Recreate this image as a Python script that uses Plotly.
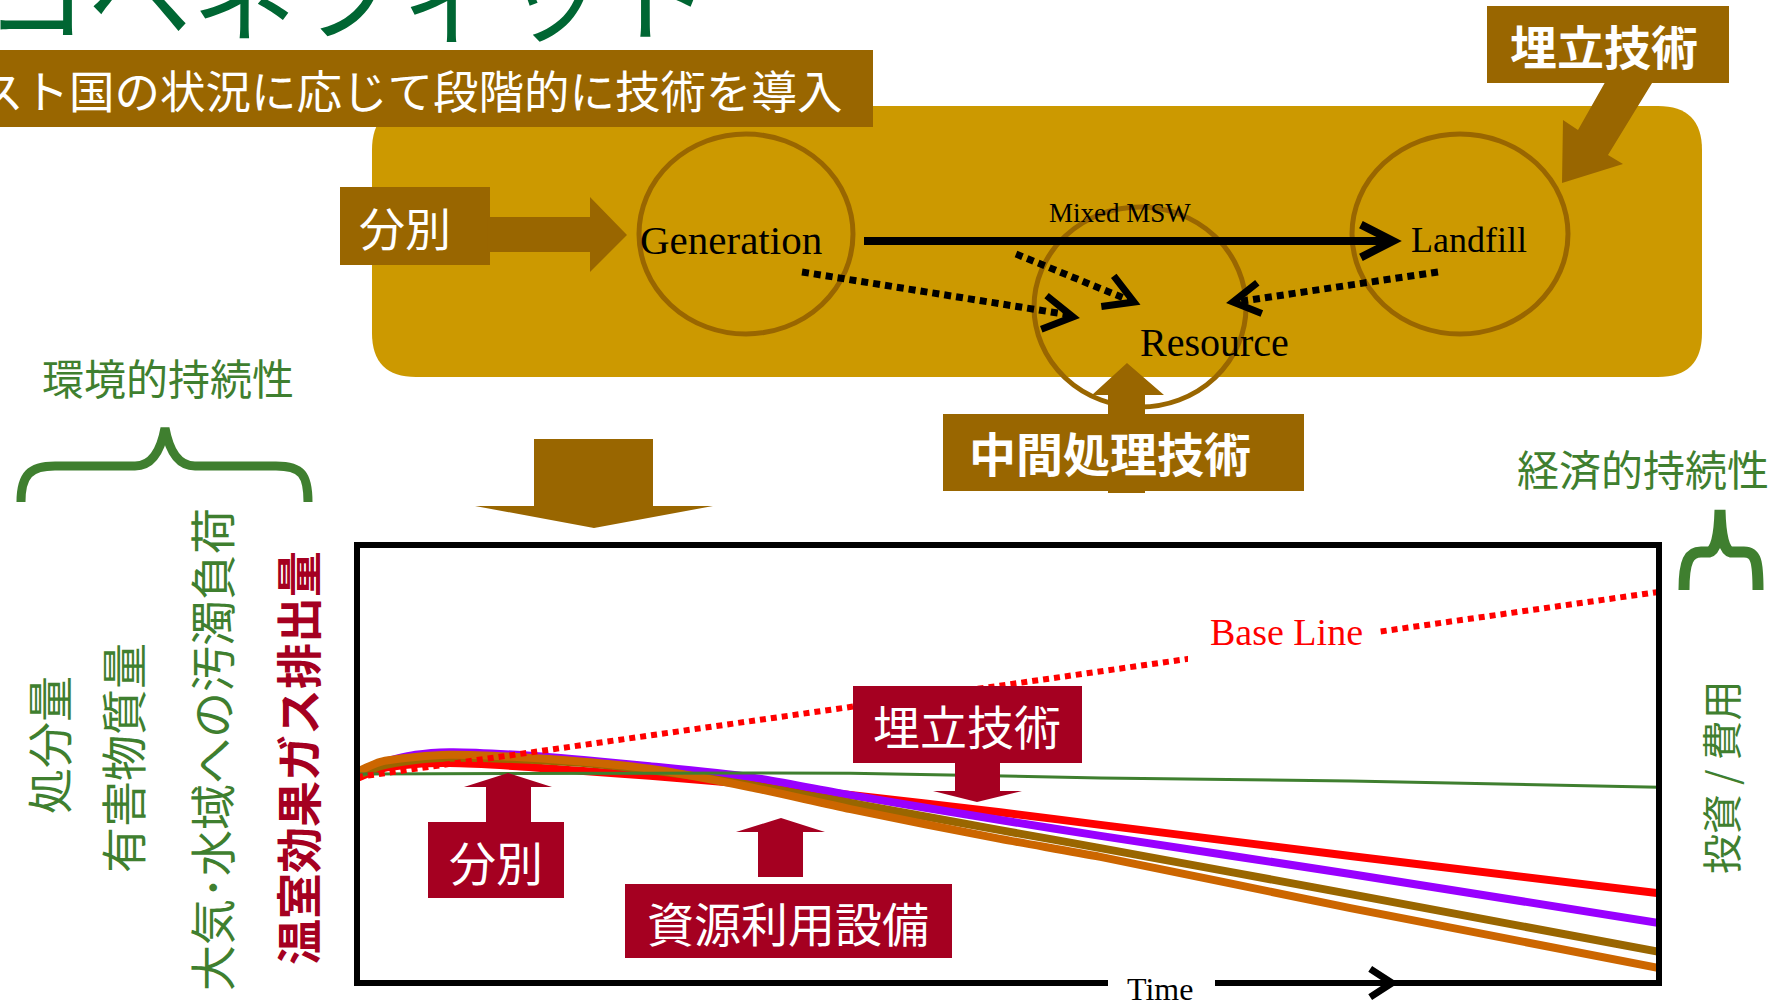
import math
import plotly.graph_objects as go

W, H = 1788, 1006

# ---- chart series (time as % of the horizon, indicator in relative units) ----
time_points = [0, 1.8, 4.5, 7.1, 12.3, 17.4, 22.5, 30.2, 37.9, 49.4, 57.1, 76.3, 100]
path_red = [46.8, 48.9, 50.0, 50.2, 49.5, 48.4, 47.3, 45.4, 42.9, 39.0, 36.1, 29.0, 20.5]
path_purple = [47.3, 50.2, 52.1, 52.7, 52.1, 50.9, 49.5, 47.0, 42.9, 37.2, 33.6, 24.9, 13.7]
path_brown = [47.3, 49.5, 50.9, 51.4, 51.1, 50.2, 48.6, 45.2, 41.1, 34.9, 30.8, 20.3, 7.1]
path_orange = [48.2, 50.5, 51.6, 52.1, 51.6, 50.5, 48.9, 44.7, 39.7, 32.9, 28.8, 17.1, 3.4]

cost_time = [0, 22.5, 37.9, 57.1, 76.3, 100]
cost_value = [47.7, 47.9, 47.9, 46.8, 46.1, 44.7]

baseline_time = [0, 100]
baseline_value = [47.0, 89.3]

# ---- palette ----
GOLD = "#CC9900"
BROWN = "#996600"
CRIMSON = "#A50021"
GREEN = "#3F7F2F"
TITLE_GREEN = "#006633"
CJK = "Noto Sans CJK JP"
SERIF = "Liberation Serif"


def X(px):
    return px / W


def Y(py):
    return 1 - py / H


shapes = []
annotations = []

# number of points each SVG command consumes
_ARITY = {"M": 1, "L": 1, "Q": 2, "C": 3}


def path_str(parts):
    out = []
    for cmd, pts in parts:
        k = _ARITY[cmd]
        for i in range(0, len(pts), k):
            group = pts[i:i + k]
            c = cmd if not (cmd == "M" and i > 0) else "L"
            out.append(c + " " + " ".join(f"{X(x):.5f},{Y(y):.5f}" for x, y in group))
    return " ".join(out)


def rect(x0, y0, x1, y1, color):
    shapes.append(dict(type="rect", xref="paper", yref="paper",
                       x0=X(x0), x1=X(x1), y0=Y(y1), y1=Y(y0),
                       fillcolor=color, line=dict(width=0), layer="above"))


def poly(pts, color):
    d = path_str([("M", pts[:1]), ("L", pts[1:])]) + " Z"
    shapes.append(dict(type="path", xref="paper", yref="paper", path=d,
                       fillcolor=color, line=dict(width=0), layer="above"))


def stroke(parts, color, width):
    shapes.append(dict(type="path", xref="paper", yref="paper", path=path_str(parts),
                       fillcolor="rgba(0,0,0,0)", line=dict(color=color, width=width),
                       layer="above"))


def seg(x0, y0, x1, y1, color, width, dash="solid"):
    shapes.append(dict(type="line", xref="paper", yref="paper",
                       x0=X(x0), y0=Y(y0), x1=X(x1), y1=Y(y1),
                       line=dict(color=color, width=width, dash=dash), layer="above"))


def ellipse(cx, cy, rx, ry, color, width):
    shapes.append(dict(type="circle", xref="paper", yref="paper",
                       x0=X(cx - rx), x1=X(cx + rx), y0=Y(cy + ry), y1=Y(cy - ry),
                       fillcolor="rgba(0,0,0,0)", line=dict(color=color, width=width),
                       layer="above"))


def chevron(tx, ty, dx, dy, length, half_angle, width, color="black"):
    n = math.hypot(dx, dy)
    ux, uy = -dx / n, -dy / n
    arms = []
    for s in (1, -1):
        a = math.radians(s * half_angle)
        vx = ux * math.cos(a) - uy * math.sin(a)
        vy = ux * math.sin(a) + uy * math.cos(a)
        arms.append((tx + length * vx, ty + length * vy))
    stroke([("M", [arms[0]]), ("L", [(tx, ty), arms[1]])], color, width)


def label(text, cx, cy, size, color, family=CJK, angle=0, xanchor="center",
          yanchor="middle"):
    annotations.append(dict(text=text, x=X(cx), y=Y(cy), xref="paper", yref="paper",
                            xanchor=xanchor, yanchor=yanchor, showarrow=False,
                            textangle=angle,
                            font=dict(family=family, size=size, color=color)))


# ---- flow diagram panel ----
r = 44
x0, y0, x1, y1 = 372, 106, 1702, 377
panel = [("M", [(x0 + r, y0)]), ("L", [(x1 - r, y0)]), ("Q", [(x1, y0), (x1, y0 + r)]),
         ("L", [(x1, y1 - r)]), ("Q", [(x1, y1), (x1 - r, y1)]),
         ("L", [(x0 + r, y1)]), ("Q", [(x0, y1), (x0, y1 - r)]),
         ("L", [(x0, y0 + r)]), ("Q", [(x0, y0), (x0 + r, y0)])]
shapes.append(dict(type="path", xref="paper", yref="paper", path=path_str(panel) + " Z",
                   fillcolor=GOLD, line=dict(width=0), layer="above"))

# subtitle bar
rect(0, 50, 873, 127, BROWN)

# stage circles
ellipse(746, 234, 107, 100, BROWN, 5)
ellipse(1140, 307, 106, 100, BROWN, 5)
ellipse(1460, 234, 108, 100, BROWN, 5)

# mixed waste flow
seg(864, 241, 1388, 241, "black", 8)
chevron(1393, 241, 1, 0, 36, 27, 8)

# recovery flows
seg(802, 272, 1070, 315, "black", 7, "7px,5px")
chevron(1073, 317, 266, 42, 34, 30, 7)
seg(1016, 254, 1131, 301, "black", 7, "7px,5px")
chevron(1134, 302, 118, 48, 33, 30, 7)
seg(1438, 272, 1236, 302, "black", 7, "7px,5px")
chevron(1233, 302, -205, 30, 31, 30, 7)

# separation (top)
rect(340, 187, 490, 265, BROWN)
poly([(488, 217), (590, 217), (590, 197), (627, 235), (590, 272), (590, 252), (488, 252)], BROWN)

# landfill technology (top right)
poly([(1612, 70), (1660, 70), (1608, 155), (1623, 164), (1562, 183), (1563, 120), (1578, 130)], BROWN)
rect(1487, 6, 1729, 83, BROWN)

# intermediate treatment
poly([(1108, 493), (1108, 395), (1092, 395), (1127, 363), (1164, 395), (1145, 395), (1145, 493)], BROWN)
rect(943, 414, 1304, 491, BROWN)

# down arrow into the chart
poly([(534, 439), (653, 439), (653, 506), (713, 506), (594, 528), (475, 506), (534, 506)], BROWN)

# ---- chart frame ----
seg(354, 545, 1662, 545, "black", 6)
seg(357, 545, 357, 986, "black", 6)
seg(1659, 545, 1659, 986, "black", 6)
seg(354, 983, 1108, 983, "black", 6)
seg(1215, 983, 1662, 983, "black", 6)
chevron(1392, 983, 1, 0, 26, 33, 7)

# gap in the baseline behind its label
rect(1188, 610, 1380, 668, "white")

# technology labels inside the chart
rect(428, 822, 564, 898, CRIMSON)
poly([(486, 822), (486, 787), (464, 787), (508, 773), (552, 787), (531, 787), (531, 822)], CRIMSON)
rect(625, 884, 952, 958, CRIMSON)
poly([(758, 877), (758, 832), (736, 832), (781, 818), (825, 832), (803, 832), (803, 877)], CRIMSON)
rect(853, 686, 1082, 763, CRIMSON)
poly([(955, 762), (1000, 762), (1000, 791), (1022, 791), (977, 802), (933, 791), (955, 791)], CRIMSON)

# braces
stroke([("M", [(21, 502)]), ("C", [(21, 475), (30, 466), (55, 466)]), ("L", [(135, 466)]),
        ("Q", [(158, 466), (165, 428)]), ("Q", [(172, 466), (195, 466)]), ("L", [(276, 466)]),
        ("C", [(302, 466), (308, 475), (308, 502)])], GREEN, 9)
stroke([("M", [(1684, 590)]), ("C", [(1684, 561), (1689, 552), (1701, 552)]), ("L", [(1709, 552)]),
        ("Q", [(1719, 550), (1720, 510)]), ("Q", [(1721, 550), (1731, 552)]), ("L", [(1744, 552)]),
        ("C", [(1756, 552), (1758, 561), (1758, 590)])], GREEN, 11)

# ---- texts ----
label("コベネフィット", -18, 66, 104, TITLE_GREEN, xanchor="left", yanchor="bottom")
label("スト国の状況に応じて段階的に技術を導入", -24, 89, 45.5, "white", xanchor="left")

label("Generation", 731, 240, 41, "black", SERIF)
label("Mixed MSW", 1120, 213, 27, "black", SERIF)
label("Landfill", 1469, 240, 36, "black", SERIF)
label("Resource", 1214, 342, 40, "black", SERIF)

label("分別", 405, 226, 46, "white")
label("<b>埋立技術</b>", 1604, 44, 47, "white")
label("<b>中間処理技術</b>", 1110, 452, 47, "white")

label("環境的持続性", 168, 376, 42, GREEN)
label("経済的持続性", 1643, 468, 42, GREEN)

label("処分量", 47, 745, 46, GREEN, angle=-90)
label("有害物質量", 121, 758, 46, GREEN, angle=-90)
label("大気･水域への汚濁負荷", 210, 750, 46, GREEN, angle=-90)
label("<b>温室効果ガス排出量</b>", 296, 758, 46, CRIMSON, angle=-90)
label("投資 / 費用", 1720, 777, 40, GREEN, angle=-90)

label("Base Line", 1286, 632, 38, "#FF0000", SERIF)
label("Time", 1160, 989, 32, "black", SERIF)

label("分別", 496, 860, 47, "white")
label("資源利用設備", 788, 921, 47, "white")
label("埋立技術", 967, 724, 47, "white")

# ---- figure ----
fig = go.Figure()
line_common = dict(shape="spline", smoothing=0.7)
fig.add_trace(go.Scatter(x=time_points, y=path_red, mode="lines",
                         line=dict(color="#FF0000", width=8, **line_common)))
fig.add_trace(go.Scatter(x=time_points, y=path_purple, mode="lines",
                         line=dict(color="#9900FF", width=8, **line_common)))
fig.add_trace(go.Scatter(x=time_points, y=path_brown, mode="lines",
                         line=dict(color=BROWN, width=8, **line_common)))
fig.add_trace(go.Scatter(x=time_points, y=path_orange, mode="lines",
                         line=dict(color="#CC6600", width=8, **line_common)))
fig.add_trace(go.Scatter(x=cost_time, y=cost_value, mode="lines",
                         line=dict(color=GREEN, width=3, **line_common)))
fig.add_trace(go.Scatter(x=baseline_time, y=baseline_value, mode="lines",
                         line=dict(color="#FF0000", width=6, dash="6px,5px")))

fig.update_layout(
    width=W, height=H,
    margin=dict(l=0, r=0, t=0, b=0),
    paper_bgcolor="white", plot_bgcolor="rgba(0,0,0,0)",
    showlegend=False,
    xaxis=dict(domain=[X(357), X(1659)], range=[0, 100], visible=False, fixedrange=True),
    yaxis=dict(domain=[Y(983), Y(545)], range=[0, 100], visible=False, fixedrange=True),
    shapes=shapes,
    annotations=annotations,
)

fig.write_html("out.html", config=dict(displayModeBar=False))
